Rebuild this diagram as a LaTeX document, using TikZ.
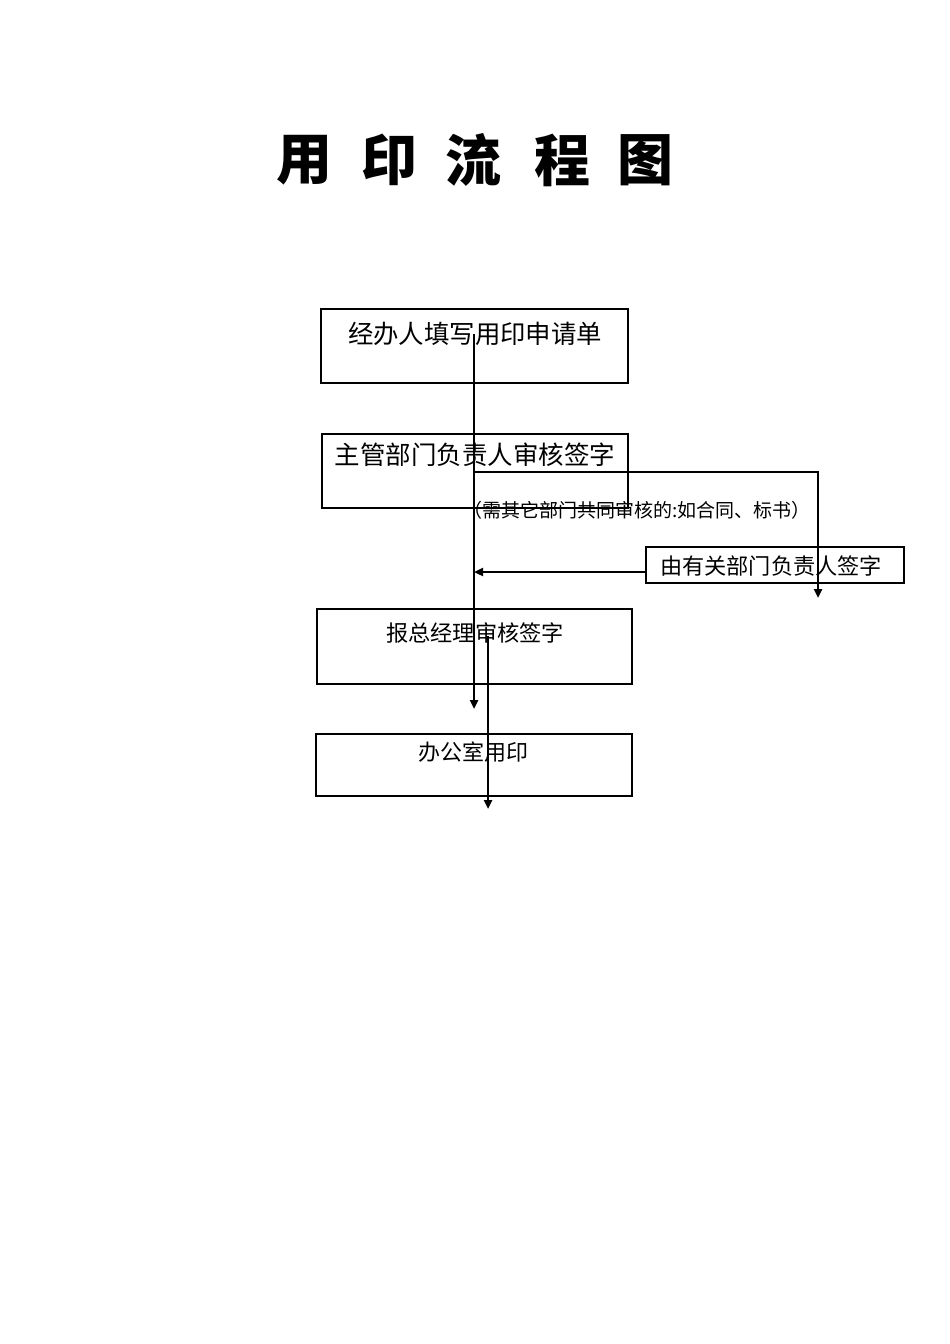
\documentclass[tikz,border=0pt]{standalone}
\usepackage{fontspec}
\newfontfamily\cjk{Noto Sans CJK SC}
\usetikzlibrary{arrows.meta}
\begin{document}
\begin{tikzpicture}[x=1pt,y=-1pt,
  box/.style={draw,line width=2.5pt,minimum width=#1,inner sep=0pt,rectangle},
  txt/.style={inner sep=0pt,font=\cjk\fontsize{#1}{#1}\selectfont},
  ttl/.style={inner sep=0pt,font=\cjk\bfseries\fontsize{56}{56}\selectfont},
  flow/.style={line width=2.4pt,-{Triangle[length=9pt,width=8pt]}}]
\useasboundingbox (0,0) rectangle (950,1344);
% title
\node[ttl] (t1) at (304,160) {用};
\node[ttl] (t2) at (389,160) {印};
\node[ttl] (t3) at (473,160) {流};
\node[ttl] (t4) at (562,160) {程};
\node[ttl] (t5) at (645,160) {图};
% boxes
\node[box=307pt,minimum height=74pt] (b1) at (474.5,346) {};
\node[box=306pt,minimum height=74pt] (b2) at (475,471) {};
\node[box=258pt,minimum height=36pt] (b3) at (775,565) {};
\node[box=315pt,minimum height=75pt] (b4) at (474.5,646.5) {};
\node[box=316pt,minimum height=62pt] (b5) at (474,765) {};
% texts
\node[txt=25.4] (l1) at (475,334) {经办人填写用印申请单};
\node[txt=25.5] (l2) at (475,455) {主管部门负责人审核签字};
\node[txt=22.2] (l3) at (771,566) {由有关部门负责人签字};
\node[txt=22.2] (l4) at (475,633) {报总经理审核签字};
\node[txt=22] (l5) at (473,752) {办公室用印};
\node[txt=19,anchor=west] (n1) at (463,510) {（需其它部门共同审核的:如合同、标书）};
% connectors
\coordinate (s1) at (474,334);
\coordinate (e1) at (474,709);
\coordinate (j1) at (474,472);
\coordinate (k1) at (818,472);
\coordinate (e2) at (818,598);
\coordinate (m1) at (474,572);
\coordinate (s2) at (488,636);
\coordinate (e3) at (488,809);
\draw[flow] (s1) -- (e1);
\draw[flow] (j1) -- (k1) -- (e2);
\draw[flow] (b3.west |- m1) -- (m1);
\draw[flow] (s2) -- (e3);
\end{tikzpicture}
\end{document}
